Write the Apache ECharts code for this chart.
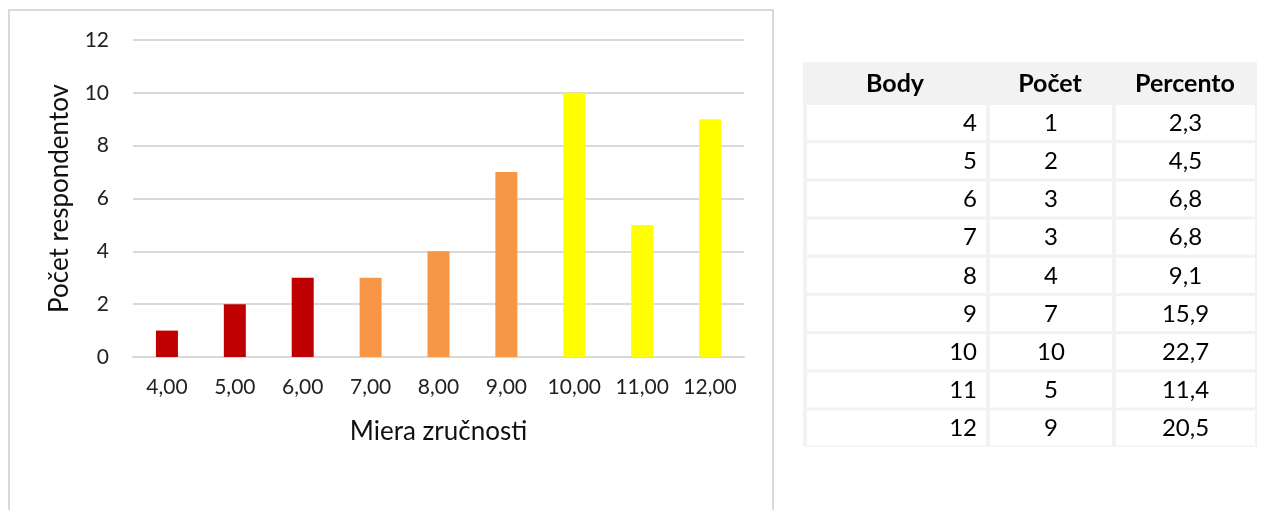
<!DOCTYPE html>
<html>
<head>
<meta charset="utf-8">
<script src="https://cdn.jsdelivr.net/npm/echarts@6/dist/echarts.min.js"></script>
<style>
  html, body { margin: 0; padding: 0; background: #ffffff; }
  #chart { width: 1262px; height: 510px; }
</style>
</head>
<body>
<div id="chart"></div>
<script>
// Skill level categories (x axis) and respondent counts
const categories = ['4,00', '5,00', '6,00', '7,00', '8,00', '9,00', '10,00', '11,00', '12,00'];
const counts = [1, 2, 3, 3, 4, 7, 10, 5, 9];

// Frequency table columns
const tableHeader = ['Body', 'Počet', 'Percento'];
const points = ['4', '5', '6', '7', '8', '9', '10', '11', '12'];
const percents = ['2,3', '4,5', '6,8', '6,8', '9,1', '15,9', '22,7', '11,4', '20,5'];

// y axis ticks
const yMax = 12;
const yStep = 2;

// Bar colour bands: low / middle / high scores
const bandColors = ['#C00000', '#F79646', '#FFFF00'];
function bandOf(i) { return i < 3 ? 0 : (i < 6 ? 1 : 2); }

const FONT = 'Lato, "Open Sans", sans-serif';

// ---- table layout ----
const tX = 803, tTop = 62, headH = 41, rowH = 38.2;
const colEdges = [803, 987, 1113, 1257];
const tBottom = tTop + headH + rowH * points.length;

function buildTable() {
  const els = [];
  // gray backdrop (shows through as cell borders)
  els.push({ type: 'rect', shape: { x: tX, y: tTop, width: colEdges[3] - tX, height: tBottom - tTop },
             style: { fill: '#F2F2F2' }, silent: true });
  const colAlign = ['right', 'center', 'center'];
  // header
  tableHeader.forEach((h, c) => {
    const cx = (colEdges[c] + colEdges[c + 1]) / 2;
    els.push({ type: 'text', x: cx, y: tTop + headH / 2 + 1,
               style: { text: h, font: 'bold 25px ' + FONT, fill: '#000', align: 'center', verticalAlign: 'middle' } });
  });
  // body rows
  const cols = [points, counts.map(String), percents];
  for (let r = 0; r < points.length; r++) {
    const y0 = tTop + headH + r * rowH;
    for (let c = 0; c < 3; c++) {
      const x0 = colEdges[c] + (c === 0 ? 4 : 3);
      const x1 = colEdges[c + 1] - (c === 2 ? 2 : 1);
      els.push({ type: 'rect', shape: { x: x0, y: y0 + 2, width: x1 - x0, height: rowH - 3.2 },
                 style: { fill: '#FFFFFF' }, silent: true });
      const tx = colAlign[c] === 'right' ? x1 - 9 : (x0 + x1) / 2;
      els.push({ type: 'text', x: tx, y: y0 + rowH / 2 + 1,
                 style: { text: cols[c][r], font: '24px ' + FONT, fill: '#000', align: colAlign[c], verticalAlign: 'middle' } });
    }
  }
  return els;
}

const chart = echarts.init(document.getElementById('chart'), null, { renderer: 'canvas' });

chart.setOption({
  backgroundColor: '#ffffff',
  animation: false,
  graphic: [
    // chart frame
    { type: 'rect', shape: { x: 9, y: 10, width: 764, height: 520 },
      style: { fill: 'none', stroke: '#D9D9D9', lineWidth: 2 }, silent: true, z: -1 },
    ...buildTable()
  ],
  grid: { left: 133, right: 1262 - 744, top: 40, bottom: 510 - 357, containLabel: false },
  xAxis: {
    type: 'category',
    data: categories,
    name: 'Miera zručnosti',
    nameLocation: 'middle',
    nameGap: 62,
    nameTextStyle: { fontFamily: FONT, fontSize: 26, color: '#111' },
    axisLine: { show: true, lineStyle: { color: '#D9D9D9', width: 2 } },
    axisTick: { show: false },
    axisLabel: { fontFamily: FONT, fontSize: 21, color: '#222', margin: 20, interval: 0, hideOverlap: false }
  },
  yAxis: {
    type: 'value',
    min: 0,
    max: yMax,
    interval: yStep,
    name: 'Počet respondentov',
    nameLocation: 'middle',
    nameGap: 60,
    nameTextStyle: { fontFamily: FONT, fontSize: 26, color: '#111' },
    axisLine: { show: false },
    axisTick: { show: false },
    splitLine: { lineStyle: { color: '#D9D9D9', width: 2 } },
    axisLabel: { fontFamily: FONT, fontSize: 21, color: '#222', margin: 24 }
  },
  series: [{
    type: 'bar',
    data: counts.map((v, i) => ({ value: v, itemStyle: { color: bandColors[bandOf(i)] } })),
    barWidth: 22
  }]
});
</script>
</body>
</html>
